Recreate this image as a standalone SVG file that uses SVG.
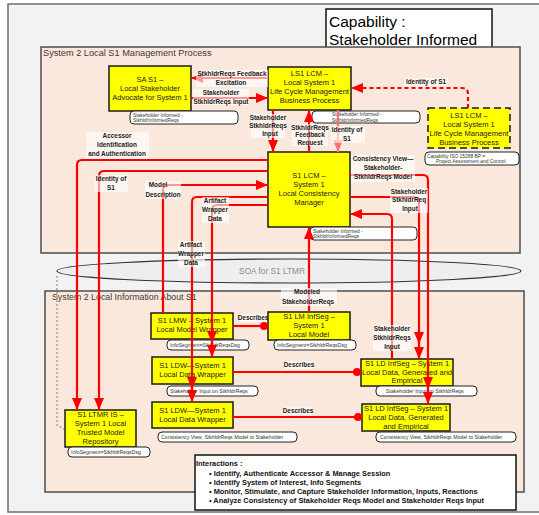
<svg xmlns="http://www.w3.org/2000/svg" width="539" height="515" viewBox="0 0 539 515">
<defs>
<marker id="ah" viewBox="0 0 12 10" refX="12" refY="5" markerWidth="12" markerHeight="10" markerUnits="userSpaceOnUse" orient="auto"><path d="M0,0 L12,5 L0,10 z" fill="#ff0000"/></marker>
<marker id="ahp" viewBox="0 0 12 10" refX="12" refY="5" markerWidth="12" markerHeight="10" markerUnits="userSpaceOnUse" orient="auto"><path d="M0,0 L12,5 L0,10 z" fill="#ff7070"/></marker>
<marker id="dot" viewBox="0 0 10 10" refX="5" refY="5" markerWidth="8" markerHeight="8" markerUnits="userSpaceOnUse"><circle cx="5" cy="5" r="5" fill="#ff0000"/></marker>
<style>
.frame{fill:#f2f2f2;stroke:#6e6e6e;stroke-width:1.5}
.region{fill:#fbe8dc;stroke:#4d4d4d;stroke-width:1.5}
.region-title{font-family:"Liberation Sans",Arial,sans-serif;font-size:9.2px;fill:#3a3a3a}
.node{fill:#ffff00;stroke:#1a1a1a;stroke-width:1.5}
.node-dash{stroke-dasharray:7 4}
.node-text{font-family:"Liberation Sans",Arial,sans-serif;font-size:7.5px;fill:#222;text-anchor:middle}
.tag{fill:#fff;stroke:#222;stroke-width:1}
.tag-text{font-family:"Liberation Sans",Arial,sans-serif;font-size:4.9px;fill:#333}
.conn{fill:none;stroke:#ff0000;stroke-width:2.2}
.conn-pink{fill:none;stroke:#ff7070;stroke-width:2.2}
.dash{stroke-dasharray:4 3}
.lbl-bg{fill:#fff;opacity:.6}
.lbl{font-family:"Liberation Sans",Arial,sans-serif;font-size:6.4px;font-weight:bold;fill:#222;text-anchor:middle}
.title{font-family:"Liberation Sans",Arial,sans-serif;font-size:15.5px;fill:#000}
.note{font-family:"Liberation Sans",Arial,sans-serif;font-size:7.4px;font-weight:bold;fill:#111}
</style>
</defs>

<!-- background frame -->
<rect class="frame" x="8" y="4" width="540" height="508"/>

<!-- capability title -->
<g id="capability-title">
<rect x="326" y="9" width="166" height="43" fill="#fff" stroke="#111" stroke-width="1.5"/>
<text class="title" x="329" y="27">Capability :</text>
<text class="title" x="329" y="45">Stakeholder Informed</text>
</g>

<!-- regions -->
<g id="region-management">
<rect class="region" x="41" y="47" width="479" height="206"/>
<text class="region-title" x="43" y="56">System 2 Local S1 Management Process</text>
</g>
<g id="region-information">
<rect class="region" x="45" y="291" width="479" height="201"/>
<text class="region-title" x="52" y="300" style="font-size:8.8px">System 2 Local Information About S1</text>
</g>
<g id="soa-bus">
<ellipse cx="289" cy="271" rx="232" ry="12" fill="#eeeeee" stroke="#333" stroke-width="1.2"/>
<text x="272" y="274" font-family="Liberation Sans, Arial, sans-serif" font-size="8.3" fill="#8c8c8c" text-anchor="middle">SOA for S1 LTMR</text>
<path d="M57,276 V425 L64,429" fill="none" stroke="#aaaaaa" stroke-width="1.6" stroke-dasharray="2 2"/>
</g>

<!-- nodes -->
<g id="sa-s1">
<rect class="node" x="109" y="66" width="82" height="45"/>
<text class="node-text" x="150" y="82">SA S1 –</text>
<text class="node-text" x="150" y="91">Local Stakeholder</text>
<text class="node-text" x="150" y="100">Advocate for System 1</text>
<rect class="tag" x="130" y="111" width="108" height="13" rx="4"/>
<text class="tag-text" x="133" y="116.5">Stakeholder Informed -</text>
<text class="tag-text" x="133" y="122">StkhldrInformedReqs</text>
</g>

<g id="ls1-lcm">
<rect class="node" x="268" y="67" width="83" height="43"/>
<text class="node-text" x="309.5" y="76">LS1 LCM –</text>
<text class="node-text" x="309.5" y="85">Local System 1</text>
<text class="node-text" x="309.5" y="94">Life Cycle Management</text>
<text class="node-text" x="309.5" y="103">Business Process</text>
<rect class="tag" x="312" y="111" width="108" height="12" rx="4"/>
<text class="tag-text" x="332" y="116">Stakeholder Informed -</text>
<text class="tag-text" x="332" y="121.5">StkhldrInformedReqs</text>
</g>

<g id="ls1-lcm-external">
<rect class="node node-dash" x="428" y="108" width="82" height="40"/>
<text class="node-text" x="469" y="118">LS1 LCM –</text>
<text class="node-text" x="469" y="127">Local System 1</text>
<text class="node-text" x="469" y="136">Life Cycle Management</text>
<text class="node-text" x="469" y="145">Business Process</text>
<rect class="tag" x="425" y="152" width="94" height="13" rx="4"/>
<text class="tag-text" x="427" y="157.5">Capability ISO 15288 BP =</text>
<text class="tag-text" x="436" y="163">Project Assessment and Control</text>
</g>

<g id="s1-lcm">
<rect class="node" x="268" y="152" width="82" height="75"/>
<text class="node-text" x="309" y="178">S1 LCM –</text>
<text class="node-text" x="309" y="187">System 1</text>
<text class="node-text" x="309" y="196">Local Consistency</text>
<text class="node-text" x="309" y="205">Manager</text>
<rect class="tag" x="310" y="227" width="107" height="13" rx="4"/>
<text class="tag-text" x="313" y="232.5">Stakeholder Informed -</text>
<text class="tag-text" x="313" y="238">StkhldrInformedReqs</text>
</g>

<g id="s1-lmw">
<rect class="node" x="151" y="313" width="82" height="26"/>
<text class="node-text" x="192" y="323">S1 LMW – System 1</text>
<text class="node-text" x="192" y="332">Local Model Wrapper</text>
<rect class="tag" x="167" y="340" width="82" height="10" rx="4"/>
<text class="tag-text" x="170" y="347" style="font-size:5.2px">InfoSegment=StkhldrReqsDsg</text>
</g>

<g id="s1-lm-infseg">
<rect class="node" x="268" y="312" width="82" height="28"/>
<text class="node-text" x="309" y="319">S1 LM InfSeg –</text>
<text class="node-text" x="309" y="328">System 1</text>
<text class="node-text" x="309" y="337">Local Model</text>
<rect class="tag" x="274" y="340" width="82" height="10" rx="4"/>
<text class="tag-text" x="277" y="347" style="font-size:5.2px">InfoSegment=StkhldrReqsDsg</text>
</g>

<g id="s1-ldw-input">
<rect class="node" x="152" y="357" width="81" height="27"/>
<text class="node-text" x="192.5" y="368">S1 LDW—System 1</text>
<text class="node-text" x="192.5" y="377">Local Data Wrapper</text>
<rect class="tag" x="167" y="386" width="91" height="10" rx="4"/>
<text class="tag-text" x="170" y="393" style="font-size:5.2px">Stakeholder Input on StkhldrReqs</text>
</g>

<g id="s1-ld-infseg-input">
<rect class="node" x="361" y="359" width="92" height="27"/>
<text class="node-text" x="407" y="366">S1 LD InfSeg – System 1</text>
<text class="node-text" x="407" y="374.5">Local Data, Generated and</text>
<text class="node-text" x="407" y="383">Empirical</text>
<rect class="tag" x="376" y="386" width="101" height="10" rx="4"/>
<text class="tag-text" x="386" y="393" style="font-size:5.2px">Stakeholder Input on StkhldrReqs</text>
</g>

<g id="s1-ldw-view">
<rect class="node" x="152" y="402" width="81" height="26"/>
<text class="node-text" x="192.5" y="413">S1 LDW—System 1</text>
<text class="node-text" x="192.5" y="422">Local Data Wrapper</text>
<rect class="tag" x="158" y="432" width="139" height="10" rx="4"/>
<text class="tag-text" x="161" y="439" style="font-size:5.2px">Consistency View, StkhldrReqs Model to Stakeholder</text>
</g>

<g id="s1-ld-infseg-view">
<rect class="node" x="362" y="404" width="88" height="27"/>
<text class="node-text" x="406" y="410.5">S1 LD InfSeg – System 1</text>
<text class="node-text" x="406" y="419.5">Local Data, Generated</text>
<text class="node-text" x="406" y="428.5">and Empirical</text>
<rect class="tag" x="376" y="432" width="140" height="10" rx="4"/>
<text class="tag-text" x="380" y="439" style="font-size:5.2px">Consistency View, StkhldrReqs Model to Stakeholder</text>
</g>

<g id="s1-ltmr-is">
<rect class="node" x="65" y="410" width="71" height="37"/>
<text class="node-text" x="100.5" y="417">S1 LTMR IS –</text>
<text class="node-text" x="100.5" y="426">System 1 Local</text>
<text class="node-text" x="100.5" y="435">Trusted Model</text>
<text class="node-text" x="100.5" y="444">Repository</text>
<rect class="tag" x="68" y="447" width="82" height="10" rx="4"/>
<text class="tag-text" x="71" y="454" style="font-size:5.2px">InfoSegment=StkhldrReqsDsg</text>
</g>

<g id="interactions">
<rect x="195" y="455" width="321" height="55" fill="#fff" stroke="#111" stroke-width="1.5"/>
<text class="note" x="196" y="466">Interactions :</text>
<text class="note" x="209" y="476">• Identify, Authenticate Accessor &amp; Manage Session</text>
<text class="note" x="209" y="485">• Identify System of Interest, Info Segments</text>
<text class="note" x="209" y="494">• Monitor, Stimulate, and Capture Stakeholder Information, Inputs, Reactions</text>
<text class="note" x="209" y="503">• Analyze Consistency of Stakeholder Reqs Model and Stakeholder Reqs Input</text>
</g>

<!-- connectors -->
<g id="connectors">
<path class="conn" d="M268,78 H191" marker-end="url(#ah)"/>
<path class="conn" d="M191,98 H268" marker-end="url(#ah)"/>
<path class="conn dash" d="M468,108 V94 Q468,88 462,88 H351" marker-end="url(#ah)"/>
<path class="conn" d="M273,110 V152" marker-end="url(#ah)"/>
<path class="conn" d="M309,152 V110" marker-end="url(#ah)"/>
<path class="conn-pink" d="M338,110 V152" marker-end="url(#ahp)"/>
<path class="conn" d="M268,160 H82 Q77,160 77,165 V410" marker-end="url(#ah)"/>
<path class="conn" d="M268,171 H104 Q99,171 99,176 V410" marker-end="url(#ah)"/>
<path class="conn" d="M163,313 V190 Q163,185 168,185 H268" marker-end="url(#ah)"/>
<path class="conn" d="M268,197 H197 Q192,197 192,202 V402" marker-end="url(#ah)"/>
<path class="conn" d="M192,378 V389" marker-end="url(#ah)"/>
<path class="conn" d="M268,205 H217 Q212,205 212,210 V357" marker-end="url(#ah)"/>
<path class="conn" d="M212,330 V343" marker-end="url(#ah)"/>
<path class="conn" d="M309,312 V227" marker-end="url(#ah)"/>
<path class="conn" d="M350,175 H423 Q428,175 428,180 V404" marker-end="url(#ah)"/>
<path class="conn" d="M428,378 V389" marker-end="url(#ah)"/>
<path class="conn" d="M350,197 H414 Q419,197 419,202 V359" marker-end="url(#ah)"/>
<path class="conn" d="M419,330 V344" marker-end="url(#ah)"/>
<path class="conn" d="M392,359 V219 Q392,214 387,214 H350" marker-end="url(#ah)"/>
<path class="conn" d="M233,326 H264" marker-end="url(#dot)"/>
<path class="conn" d="M233,372 H357" marker-end="url(#dot)"/>
<path class="conn" d="M233,417 H358" marker-end="url(#dot)"/>
</g>

<!-- connector labels -->
<g id="connector-labels">
<rect class="lbl-bg" x="196" y="70" width="72" height="17"/>
<text class="lbl" x="232" y="76">StkhldrReqs Feedback</text>
<text class="lbl" x="231" y="85">Excitation</text>
<rect class="lbl-bg" x="193" y="89" width="56" height="16"/>
<text class="lbl" x="221" y="95">Stakeholder</text>
<text class="lbl" x="221" y="104">StkhldrReqs Input</text>
<rect class="lbl-bg" x="404" y="78" width="44" height="8"/>
<text class="lbl" x="426" y="84">Identity of S1</text>
<rect class="lbl-bg" x="251" y="114" width="34" height="24"/>
<text class="lbl" x="268" y="120">Stakeholder</text>
<text class="lbl" x="268" y="128">StkhldrReqs</text>
<text class="lbl" x="270" y="136">Input</text>
<rect class="lbl-bg" x="292" y="124" width="36" height="22"/>
<text class="lbl" x="310" y="129.5">StkhldrReqs</text>
<text class="lbl" x="310" y="137">Feedback</text>
<text class="lbl" x="310" y="144.5">Request</text>
<rect class="lbl-bg" x="331" y="126" width="34" height="17"/>
<text class="lbl" x="347" y="132">Identity of</text>
<text class="lbl" x="347" y="141">S1</text>
<rect class="lbl-bg" x="86" y="132" width="63" height="27"/>
<text class="lbl" x="117" y="138">Accessor</text>
<text class="lbl" x="117" y="147">Identification</text>
<text class="lbl" x="117" y="156">and Authentication</text>
<rect class="lbl-bg" x="94" y="175" width="34" height="17"/>
<text class="lbl" x="111" y="181">Identity of</text>
<text class="lbl" x="111" y="190">S1</text>
<rect class="lbl-bg" x="145" y="181" width="36" height="18"/>
<text class="lbl" x="158" y="187">Model</text>
<text class="lbl" x="163" y="197">Description</text>
<rect class="lbl-bg" x="202" y="197" width="27" height="26"/>
<text class="lbl" x="215" y="203">Artifact</text>
<text class="lbl" x="215" y="212">Wrapper</text>
<text class="lbl" x="215" y="221">Data</text>
<rect class="lbl-bg" x="178" y="241" width="27" height="26"/>
<text class="lbl" x="191" y="247">Artifact</text>
<text class="lbl" x="191" y="256">Wrapper</text>
<text class="lbl" x="191" y="265">Data</text>
<rect class="lbl-bg" x="351" y="155" width="64" height="27"/>
<text class="lbl" x="383" y="161">Consistency View—</text>
<text class="lbl" x="383" y="170">Stakeholder-</text>
<text class="lbl" x="383" y="179">StkhldrReqs Model</text>
<rect class="lbl-bg" x="390" y="188" width="38" height="25"/>
<text class="lbl" x="409" y="194">Stakeholder</text>
<text class="lbl" x="409" y="202">StkhldrReq</text>
<text class="lbl" x="410" y="211">Input</text>
<rect class="lbl-bg" x="281" y="288" width="56" height="18"/>
<text class="lbl" x="307" y="294">Modeled</text>
<text class="lbl" x="308" y="304">StakeholderReqs</text>
<rect class="lbl-bg" x="373" y="325" width="38" height="26"/>
<text class="lbl" x="392" y="331">Stakeholder</text>
<text class="lbl" x="392" y="340">StkhldrReqs</text>
<text class="lbl" x="392" y="349">Input</text>
<rect class="lbl-bg" x="240" y="314" width="27" height="8"/>
<text class="lbl" x="253" y="320">Describes</text>
<rect class="lbl-bg" x="285" y="361" width="28" height="8"/>
<text class="lbl" x="299" y="367">Describes</text>
<rect class="lbl-bg" x="284" y="407" width="28" height="8"/>
<text class="lbl" x="298" y="413">Describes</text>
</g>
</svg>
